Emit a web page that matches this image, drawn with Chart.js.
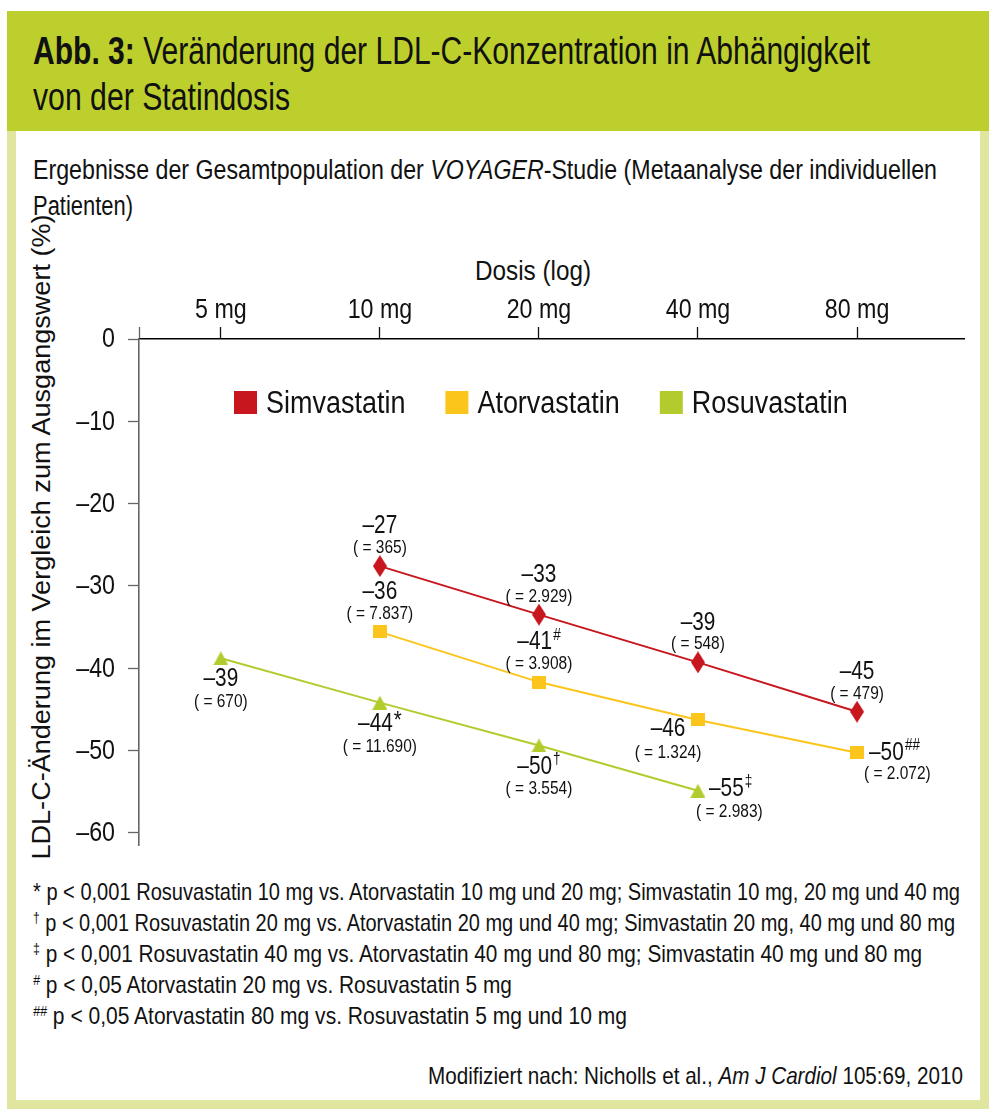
<!DOCTYPE html>
<html><head><meta charset="utf-8">
<script src="https://cdn.jsdelivr.net/npm/chart.js@4.4.1/dist/chart.umd.min.js"></script>
<style>
html,body{margin:0;padding:0;background:#fff;}
body{width:1008px;height:1120px;position:relative;overflow:hidden;font-family:'Liberation Sans',Arial,sans-serif;color:#111;}
#frame{position:absolute;left:7px;top:11px;width:982px;height:1098px;box-sizing:border-box;border:9px solid #e0e69f;}
#header{position:absolute;left:7px;top:11px;width:982px;height:120px;background:#bccf2d;}
.t{position:absolute;white-space:nowrap;transform-origin:left center;line-height:1;}
sup{font-size:0.6em;vertical-align:0.55em;line-height:0;}
#c{position:absolute;left:0;top:0;}
</style></head>
<body>
<div id="frame"></div>
<div id="header"></div>
<div class="t" data-w="837" style="left:33px;top:32px;font-size:38px;"><b>Abb. 3:</b> Veränderung der LDL-C-Konzentration in Abhängigkeit</div>
<div class="t" data-w="257" style="left:33px;top:78px;font-size:38px;">von der Statindosis</div>
<div class="t" data-w="904" style="left:33px;top:157px;font-size:27px;">Ergebnisse der Gesamtpopulation der <i>VOYAGER</i>-Studie (Metaanalyse der individuellen</div>
<div class="t" data-w="100" style="left:33px;top:193px;font-size:27px;">Patienten)</div>
<div class="t" data-w="116" style="left:475px;top:258px;font-size:27px;">Dosis (log)</div>
<div class="t" id="ytitle" style="font-size:26px;">LDL-C-Änderung im Vergleich zum Ausgangswert (%)</div>
<div class="t" data-w="927" style="left:33px;top:880px;font-size:24px;">* p &lt; 0,001 Rosuvastatin 10 mg vs. Atorvastatin 10 mg und 20 mg; Simvastatin 10 mg, 20 mg und 40 mg</div>
<div class="t" data-w="922" style="left:33px;top:911px;font-size:24px;"><sup>†</sup> p &lt; 0,001 Rosuvastatin 20 mg vs. Atorvastatin 20 mg und 40 mg; Simvastatin 20 mg, 40 mg und 80 mg</div>
<div class="t" data-w="889" style="left:33px;top:942px;font-size:24px;"><sup>‡</sup> p &lt; 0,001 Rosuvastatin 40 mg vs. Atorvastatin 40 mg und 80 mg; Simvastatin 40 mg und 80 mg</div>
<div class="t" data-w="479" style="left:33px;top:973px;font-size:24px;"><sup><i>#</i></sup> p &lt; 0,05 Atorvastatin 20 mg vs. Rosuvastatin 5 mg</div>
<div class="t" data-w="594" style="left:33px;top:1004px;font-size:24px;"><sup><i>##</i></sup> p &lt; 0,05 Atorvastatin 80 mg vs. Rosuvastatin 5 mg und 10 mg</div>
<div class="t" id="src" data-w="535" style="left:428px;top:1064px;font-size:24px;">Modifiziert nach: Nicholls et al., <i>Am J Cardiol</i> 105:69, 2010</div>
<canvas id="c" width="1008" height="1120"></canvas>
<script>
// ---------- data ----------
const seriesNames = ['Simvastatin', 'Atorvastatin', 'Rosuvastatin'];
const doseTicks = [5, 10, 20, 40, 80];
const doseTickLabels = ['5 mg', '10 mg', '20 mg', '40 mg', '80 mg'];
const yTicks = [0, -10, -20, -30, -40, -50, -60];

const simDoses = [10, 20, 40, 80];
const simValues = [-27.6, -33.5, -39.3, -45.3];
const simLabels = ['–27', '–33', '–39', '–45'];
const simSup = ['', '', '', ''];
const simN = ['( = 365)', '( = 2.929)', '( = 548)', '( = 479)'];

const atorDoses = [10, 20, 40, 80];
const atorValues = [-35.6, -41.7, -46.3, -50.3];
const atorLabels = ['–36', '–41', '–46', '–50'];
const atorSup = ['', '#', '', '##'];
const atorN = ['( = 7.837)', '( = 3.908)', '( = 1.324)', '( = 2.072)'];

const rosuDoses = [5, 10, 20, 40];
const rosuValues = [-38.8, -44.2, -49.4, -54.9];
const rosuLabels = ['–39', '–44', '–50', '–55'];
const rosuSup = ['', '*', '†', '‡'];
const rosuN = ['( = 670)', '( = 11.690)', '( = 3.554)', '( = 2.983)'];

// ---------- styling ----------
const FF = "'Liberation Sans',Arial,sans-serif";
const RED = '#c8161e', YEL = '#fbc51b', GRN = '#b3cb2c';

function mk(w, h, color, pts) {
  const c = document.createElement('canvas'); c.width = w; c.height = h;
  const g = c.getContext('2d'); g.fillStyle = color; g.beginPath();
  pts.forEach((p, i) => i ? g.lineTo(p[0], p[1]) : g.moveTo(p[0], p[1]));
  g.closePath(); g.fill(); return c;
}
const diamond = mk(14, 22, RED, [[7,0],[14,11],[7,22],[0,11]]);
const square = mk(14, 13, YEL, [[0,0],[14,0],[14,13],[0,13]]);
const tri = mk(15, 14, GRN, [[7.5,0],[15,14],[0,14]]);

const pairs = (xs, ys) => xs.map((x, i) => ({x: x, y: ys[i]}));
const seriesText = [
  {val: simLabels, sup: simSup, n: simN},
  {val: atorLabels, sup: atorSup, n: atorN},
  {val: rosuLabels, sup: rosuSup, n: rosuN}
];

// condensed text helper (horizontal squeeze to mimic a condensed face)
function sText(ctx, txt, x, y, font, sx, align) {
  ctx.save();
  ctx.font = font;
  const w = ctx.measureText(txt).width * sx;
  const x0 = align === 'center' ? x - w / 2 : align === 'right' ? x - w : x;
  ctx.translate(x0, y); ctx.scale(sx, 1);
  ctx.textAlign = 'left';
  ctx.fillText(txt, 0, 0);
  ctx.restore();
  return w;
}
function sWidth(ctx, txt, font, sx) { ctx.save(); ctx.font = font; const w = ctx.measureText(txt).width * sx; ctx.restore(); return w; }

// label placement (layout only)
const ABOVE = {align: 'center', dx: 0, dy: -40, ndx: 0, ndy: -18};
const BELOW = {align: 'center', dx: 0, dy: 21, ndx: 0, ndy: 44};
const placements = [
  [ABOVE, ABOVE, ABOVE, ABOVE],
  [ABOVE, ABOVE, {align: 'center', dx: -30, dy: 9, ndx: -30, ndy: 33}, {align: 'left', dx: 12, dy: 0, ndx: 7, ndy: 21}],
  [BELOW, BELOW, BELOW, {align: 'left', dx: 11, dy: -2, ndx: -2, ndy: 21}]
];

const MAINF = '26px ' + FF, MAINSX = 0.8;
const NF = '18px ' + FF, NSX = 0.86;

const labelPlugin = {
  id: 'pointLabels',
  afterDatasetsDraw(chart) {
    const ctx = chart.ctx;
    ctx.save();
    ctx.fillStyle = '#111';
    ctx.textBaseline = 'middle';
    chart.data.datasets.forEach((ds, di) => {
      const meta = chart.getDatasetMeta(di);
      const st = seriesText[di];
      meta.data.forEach((pt, i) => {
        const pl = placements[di][i];
        const main = st.val[i], sup = st.sup[i];
        const supBig = sup === '*';
        const supF = (supBig ? '24px ' : (sup.indexOf('#') >= 0 ? 'italic 16px ' : '16px ')) + FF;
        const wMain = sWidth(ctx, main, MAINF, MAINSX);
        const wSup = sup ? sWidth(ctx, sup, supF, 0.85) + 1 : 0;
        let x0 = pt.x + pl.dx;
        if (pl.align === 'center') x0 -= (wMain + wSup) / 2;
        const y = pt.y + pl.dy;
        sText(ctx, main, x0, y, MAINF, MAINSX, 'left');
        if (sup) sText(ctx, sup, x0 + wMain + 1, y - (supBig ? 2 : 7), supF, 0.85, 'left');
        sText(ctx, st.n[i], pt.x + pl.ndx, pt.y + pl.ndy, NF, NSX, pl.align === 'center' ? 'center' : 'left');
      });
    });
    ctx.restore();
  }
};

const legendPlugin = {
  id: 'inLegend',
  afterDraw(chart) {
    const ctx = chart.ctx, a = chart.chartArea;
    const LF = '31px ' + FF, LSX = 0.87;
    ctx.save();
    ctx.textBaseline = 'middle';
    let x = a.left + 95;
    const y = a.top + 64;
    chart.data.datasets.forEach(ds => {
      ctx.fillStyle = ds.legendColor;
      ctx.fillRect(x, y - 12, 23, 23);
      ctx.fillStyle = '#111';
      const w = sText(ctx, ds.label, x + 32, y + 1, LF, LSX, 'left');
      x += 32 + w + 40;
    });
    ctx.restore();
  }
};

// tick labels drawn from the scales' own ticks, with a condensed squeeze
const TF = '27px ' + FF, TSX = 0.86;
const tickLabelPlugin = {
  id: 'tickLabels',
  afterDraw(chart) {
    const ctx = chart.ctx, xs = chart.scales.x, ys = chart.scales.y;
    ctx.save();
    ctx.fillStyle = '#111';
    ctx.textBaseline = 'alphabetic';
    xs.ticks.forEach(t => {
      if (!t.label) return;
      sText(ctx, t.label, xs.getPixelForValue(t.value), xs.bottom - xs.options.grid.tickLength - 9, TF, TSX, 'center');
    });
    ctx.textBaseline = 'middle';
    ys.ticks.forEach(t => {
      sText(ctx, t.label, ys.right - ys.options.grid.tickLength - 13, ys.getPixelForValue(t.value) + 1, TF, TSX, 'right');
    });
    ctx.restore();
  }
};

const XMIN = 3.5, XMAX = 127.5;
new Chart(document.getElementById('c'), {
  type: 'line',
  data: {
    datasets: [
      {label: seriesNames[0], data: pairs(simDoses, simValues), borderColor: RED, legendColor: RED, borderWidth: 2, pointStyle: diamond, pointRadius: 8},
      {label: seriesNames[1], data: pairs(atorDoses, atorValues), borderColor: YEL, legendColor: YEL, borderWidth: 2, pointStyle: square, pointRadius: 8},
      {label: seriesNames[2], data: pairs(rosuDoses, rosuValues), borderColor: GRN, legendColor: GRN, borderWidth: 2, pointStyle: tri, pointRadius: 8}
    ]
  },
  options: {
    responsive: false, animation: false, devicePixelRatio: 1,
    layout: {padding: {left: 0, top: 0, right: 44, bottom: 275}},
    plugins: {legend: {display: false}, tooltip: {enabled: false}, title: {display: false}},
    scales: {
      x: {
        type: 'logarithmic', position: 'top', min: XMIN, max: XMAX,
        afterBuildTicks: s => { s.ticks = [{value: XMIN}].concat(doseTicks.map(v => ({value: v}))); },
        afterFit: s => { s.height = 339; },
        ticks: {
          display: false, autoSkip: false, maxRotation: 0, minRotation: 0,
          callback: v => { const i = doseTicks.indexOf(v); return i < 0 ? '' : doseTickLabels[i]; }
        },
        grid: {drawOnChartArea: false, drawTicks: true, tickLength: 12, tickWidth: 1.3,
               tickColor: c => (c.tick && c.tick.value === XMIN) ? '#666' : '#111'},
        border: {display: true, color: '#000', width: 1.6}
      },
      y: {
        type: 'linear', min: -61.5, max: 0,
        afterBuildTicks: s => { s.ticks = yTicks.map(v => ({value: v})); },
        afterFit: s => { s.width = 139; },
        ticks: {display: false, callback: v => v === 0 ? '0' : '–' + Math.abs(v)},
        grid: {drawOnChartArea: false, drawTicks: true, tickLength: 11, tickWidth: 1.3, tickColor: '#666'},
        border: {display: true, color: '#666', width: 1.6}
      }
    }
  },
  plugins: [labelPlugin, legendPlugin, tickLabelPlugin]
});

// ---------- fit html text widths ----------
document.querySelectorAll('.t[data-w]').forEach(el => {
  const w = el.getBoundingClientRect().width;
  const target = +el.dataset.w;
  el.style.transform = 'scaleX(' + (target / w) + ')';
});
const yt = document.getElementById('ytitle');
const yw = yt.getBoundingClientRect().width, yh = yt.getBoundingClientRect().height;
const ys = 645 / yw;
yt.style.left = (41 - yw / 2) + 'px';
yt.style.top = (537 - yh / 2) + 'px';
yt.style.transformOrigin = 'center center';
yt.style.transform = 'rotate(-90deg) scaleX(' + ys + ')';
</script>
</body></html>
